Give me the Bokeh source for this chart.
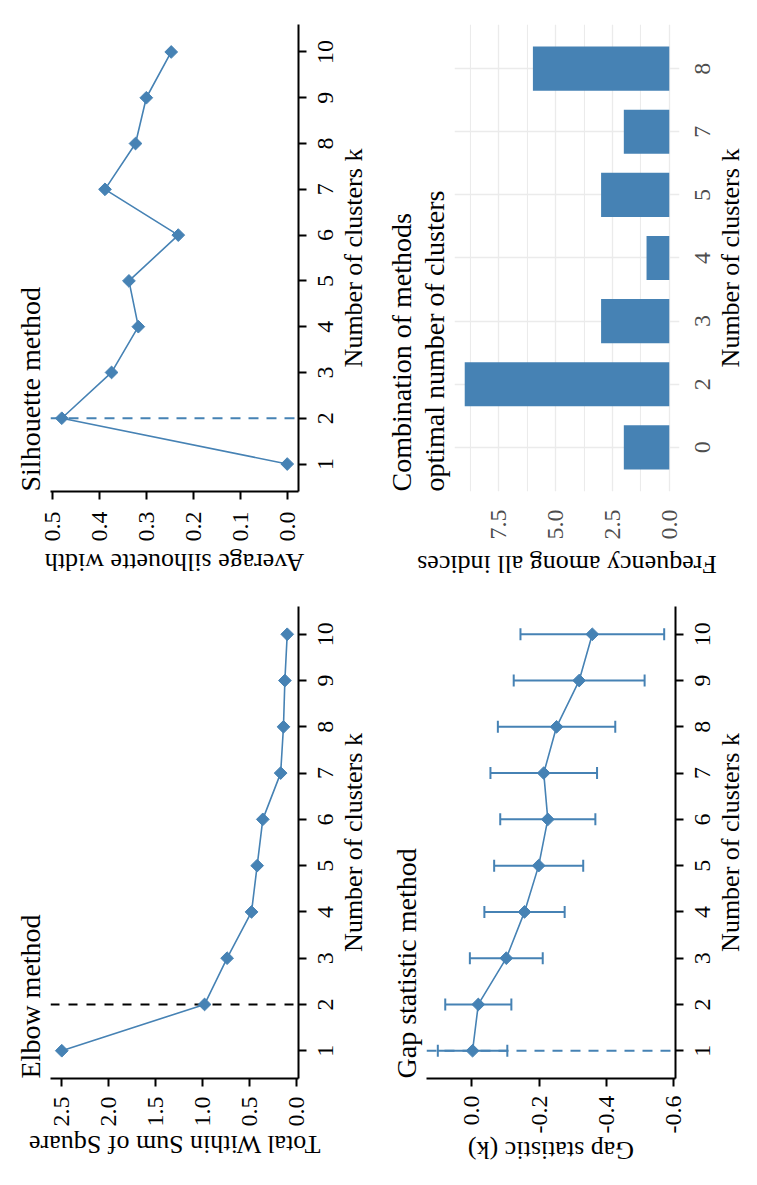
import math
from bokeh.plotting import figure
from bokeh.models import (Range1d, FactorRange, FixedTicker, PrintfTickFormatter,
                          Span, Whisker, TeeHead, ColumnDataSource, CustomJS)
from bokeh.layouts import column
from bokeh.document import Document
from bokeh.embed import file_html
from bokeh.resources import INLINE

# ---------------- data ----------------
k = [1, 2, 3, 4, 5, 6, 7, 8, 9, 10]
elbow_wss = [2.50, 0.98, 0.74, 0.48, 0.42, 0.36, 0.17, 0.14, 0.125, 0.10]
silhouette = [0.0, 0.480, 0.374, 0.317, 0.337, 0.232, 0.388, 0.323, 0.300, 0.247]
gap_stat = [-0.003, -0.020, -0.103, -0.157, -0.199, -0.226, -0.214, -0.252, -0.319, -0.358]
gap_se = [0.103, 0.098, 0.108, 0.119, 0.132, 0.141, 0.158, 0.174, 0.194, 0.213]
nb_clusters = ["0", "2", "3", "4", "5", "7", "8"]
nb_frequency = [2, 9, 3, 1, 3, 2, 6]
elbow_best = 2
silhouette_best = 2
gap_best = 1

sil_ticks = [0.0, 0.1, 0.2, 0.3, 0.4, 0.5]
wss_ticks = [0.0, 0.5, 1.0, 1.5, 2.0, 2.5]
gap_ticks = [0.0, -0.2, -0.4, -0.6]
freq_ticks = [0.0, 2.5, 5.0, 7.5]
freq_minor = [1.25, 3.75, 6.25, 8.75]

# ---------------- style ----------------
BLUE = "#4682B4"
FONT = "Liberation Serif"
GREY = "#4D4D4D"
GRID = "#EBEBEB"
TICK_PX = "24px"
LAB_PX = "26px"


def expand(lo, hi, mult=0.05):
    d = (hi - lo) * mult
    return lo - d, hi + d


def make_fig(w, h, xr, yr, title, lb, fw, tb, fh, cls, overlap=0):
    p = figure(width=w, height=h, x_range=xr, y_range=yr,
               output_backend="svg", toolbar_location=None, title=title,
               min_border_left=lb, min_border_right=w - lb - fw,
               min_border_top=tb, min_border_bottom=h - tb - fh,
               css_classes=[cls])
    if overlap:
        p.styles = {"margin-top": "-%dpx" % overlap}
    p.outline_line_color = None
    p.background_fill_color = "white"
    p.border_fill_color = "white"
    p.title.text_font = FONT
    p.title.text_font_size = "28px"
    p.title.text_font_style = "normal"
    p.title.text_color = "black"
    p.title.text_line_height = 1.05
    p.title.align = "left"
    p.title.standoff = 9
    return p


def style_axes(p, xlabel, ylabel, color="black", ticks=True, ystand=10, xstand=11,
               ylab_stand=0, xlab_stand=3):
    xa, ya = p.xaxis[0], p.yaxis[0]
    xa.axis_label, ya.axis_label = xlabel, ylabel
    ya.major_label_standoff = ystand
    xa.major_label_standoff = xstand
    ya.axis_label_standoff = ylab_stand
    xa.axis_label_standoff = xlab_stand
    for ax in (xa, ya):
        ax.axis_label_text_font = FONT
        ax.axis_label_text_font_size = LAB_PX
        ax.axis_label_text_font_style = "normal"
        ax.axis_label_text_color = "black"
        ax.axis_label_text_line_height = 1.0
        ax.major_label_text_font = FONT
        ax.major_label_text_font_size = TICK_PX
        ax.major_label_text_color = color
        ax.major_label_text_line_height = 1.0
        ax.minor_tick_line_color = None
        ax.major_tick_in = 0
        if ticks:
            ax.major_tick_out = 8
            ax.major_tick_line_width = 2
            ax.major_tick_line_color = "black"
            ax.axis_line_width = 2
            ax.axis_line_color = "black"
        else:
            ax.major_tick_out = 0
            ax.major_tick_line_color = None
            ax.axis_line_color = None


def no_grid(p):
    p.xgrid.grid_line_color = None
    p.ygrid.grid_line_color = None


def points_line(p, ys):
    p.line(k, ys, line_color=BLUE, line_width=1.6)
    p.scatter(k, ys, marker="square", angle=math.pi / 4, size=9, color=BLUE)


# ---------------- Elbow ----------------
lo, hi = expand(min(elbow_wss), max(elbow_wss))
p_elb = make_fig(587, 370, Range1d(0.4, 10.6), Range1d(lo, hi), "Elbow method",
                 81, 489, 41, 249, "rot-elb")
no_grid(p_elb)
p_elb.add_layout(Span(location=elbow_best, dimension="height", line_color="black",
                      line_width=2, line_dash="9 9", level="underlay"))
points_line(p_elb, elbow_wss)
p_elb.yaxis.ticker = FixedTicker(ticks=wss_ticks)
p_elb.yaxis.formatter = PrintfTickFormatter(format="%.1f")
p_elb.xaxis.ticker = FixedTicker(ticks=k)
style_axes(p_elb, "Number of clusters k", "Total Within Sum of Square")

# ---------------- Silhouette ----------------
lo, hi = expand(min(silhouette), max(silhouette))
p_sil = make_fig(582, 370, Range1d(0.4, 10.6), Range1d(lo, hi), "Silhouette method",
                 98, 484, 41, 249, "rot-sil", overlap=105)
no_grid(p_sil)
p_sil.add_layout(Span(location=silhouette_best, dimension="height", line_color=BLUE,
                      line_width=2, line_dash="10 8", level="underlay"))
points_line(p_sil, silhouette)
p_sil.yaxis.ticker = FixedTicker(ticks=sil_ticks)
p_sil.yaxis.formatter = PrintfTickFormatter(format="%.1f")
p_sil.xaxis.ticker = FixedTicker(ticks=k)
style_axes(p_sil, "Number of clusters k", "Average silhouette width", ystand=12, ylab_stand=3)

# ---------------- Gap statistic ----------------
gap_lo = [g - s for g, s in zip(gap_stat, gap_se)]
gap_hi = [g + s for g, s in zip(gap_stat, gap_se)]
lo, hi = expand(min(gap_lo), max(gap_hi))
p_gap = make_fig(587, 371, Range1d(0.4, 10.6), Range1d(lo, hi), "Gap statistic method",
                 90, 480, 48, 249, "rot-gap", overlap=105)
no_grid(p_gap)
p_gap.add_layout(Span(location=gap_best, dimension="height", line_color=BLUE,
                      line_width=2, line_dash="10 8", level="underlay"))
src = ColumnDataSource(dict(k=k, gap=gap_stat, lo=gap_lo, hi=gap_hi))
p_gap.add_layout(Whisker(source=src, base="k", lower="lo", upper="hi", dimension="height",
                         line_color=BLUE, line_width=2, level="glyph",
                         lower_head=TeeHead(size=12, line_color=BLUE, line_width=2),
                         upper_head=TeeHead(size=12, line_color=BLUE, line_width=2)))
p_gap.line("k", "gap", source=src, line_color=BLUE, line_width=1.6)
p_gap.scatter("k", "gap", source=src, marker="square", angle=math.pi / 4, size=9, color=BLUE)
p_gap.yaxis.ticker = FixedTicker(ticks=gap_ticks)
p_gap.yaxis.formatter = PrintfTickFormatter(format="%.1f")
p_gap.xaxis.ticker = FixedTicker(ticks=k)
style_axes(p_gap, "Number of clusters k", "Gap statistic (k)", ystand=9)

# ---------------- Combination (NbClust) ----------------
lo, hi = expand(0, max(nb_frequency))
p_nb = make_fig(582, 371,
                FactorRange(factors=nb_clusters, range_padding=0.2, range_padding_units="absolute"),
                Range1d(lo, hi), "Combination of methods\noptimal number of clusters",
                93, 489, 76, 225, "rot-nb", overlap=105)
p_nb.vbar(x=nb_clusters, bottom=0, top=nb_frequency, width=0.7, fill_color=BLUE, line_color=None)
p_nb.yaxis.ticker = FixedTicker(ticks=freq_ticks, minor_ticks=freq_minor)
p_nb.yaxis.formatter = PrintfTickFormatter(format="%.1f")
p_nb.ygrid.grid_line_color = GRID
p_nb.ygrid.grid_line_width = 1.3
p_nb.ygrid.minor_grid_line_color = GRID
p_nb.ygrid.minor_grid_line_width = 1.1
p_nb.xgrid.grid_line_color = GRID
p_nb.xgrid.grid_line_width = 1.3
style_axes(p_nb, "Number of clusters k", "Frequency among all indices", color=GREY,
           ticks=False, ystand=14, xstand=15, ylab_stand=7)

# The four landscape (ggplot style) panels are stacked; once Bokeh has laid
# them out, each is given a quarter turn counter-clockwise into its place of
# the reference picture (page pixels of the turned panel's top-left corner).
layout = column(p_elb, p_sil, p_gap, p_nb, styles={"width": "741px"})

doc = Document()
doc.add_root(layout)
doc.js_on_event("document_ready", CustomJS(code="""
    function find(root, cls, out) {
        for (const el of root.querySelectorAll("*")) {
            if (el.classList && el.classList.contains(cls)) out.push(el);
            if (el.shadowRoot) find(el.shadowRoot, cls, out);
        }
        return out;
    }
    const places = [["rot-elb", 8, 590], ["rot-sil", 8, 8], ["rot-gap", 378, 590], ["rot-nb", 378, 8]];
    const todo = [];
    for (const [cls, X, Y] of places) {
        const found = find(document, cls, []);
        if (found.length == 0) continue;
        const el = found[0];
        todo.push([el, el.getBoundingClientRect(), X, Y]);
    }
    for (const [el, r, X, Y] of todo) {
        const tx = X - r.left;
        const ty = Y + r.width - r.top;
        el.style.transformOrigin = "0 0";
        el.style.transform = "translate(" + tx + "px, " + ty + "px) rotate(-90deg)";
    }
"""))
html = file_html(doc, INLINE)
html = html.replace("<body>", '<body style="overflow: hidden;">', 1)
open("out.html", "w").write(html)
